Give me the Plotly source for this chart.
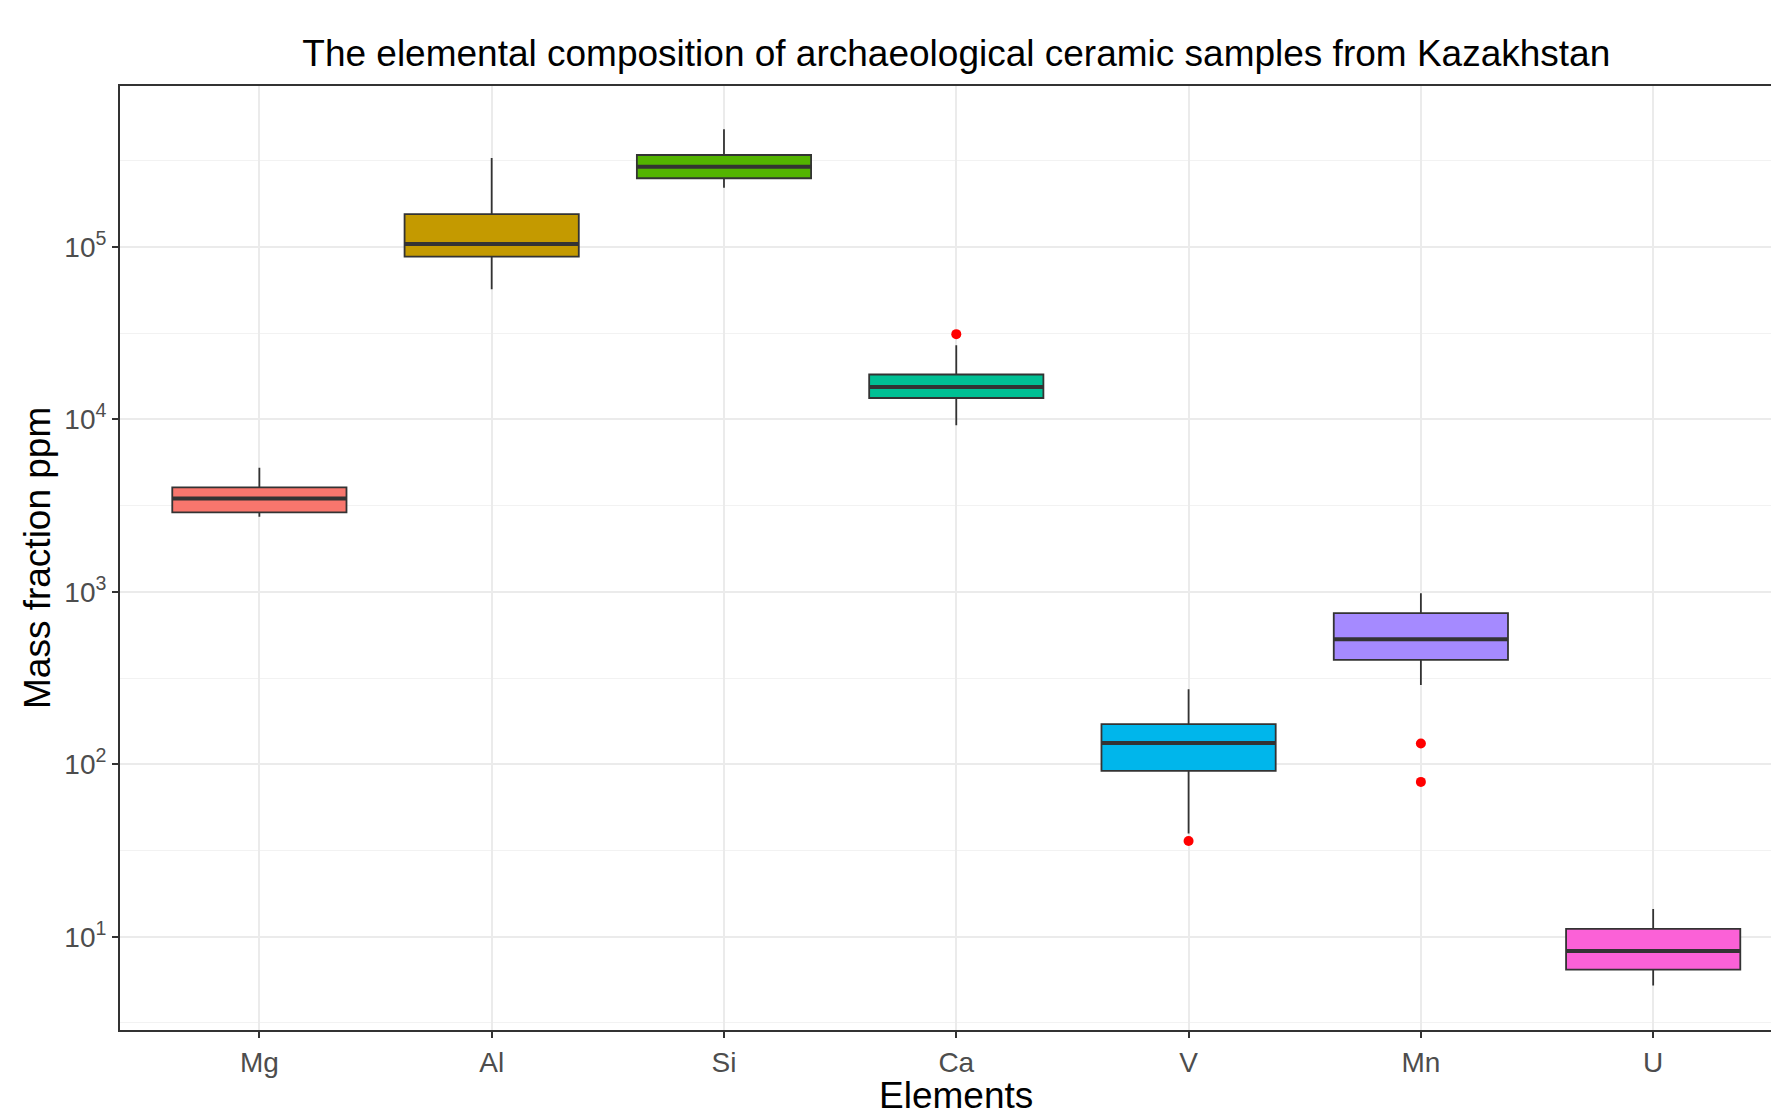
import plotly.graph_objects as go

elements = ["Mg", "Al", "Si", "Ca", "V", "Mn", "U"]
colors = ["#F8766D", "#C49A00", "#53B400", "#00C094", "#00B6EB", "#A58AFF", "#FB61D7"]
lower_whisker = [2720, 56900, 220000, 9250, 39.7, 288, 5.22]
q1 = [2885, 87900, 250000, 13300, 91.6, 403, 6.44]
median = [3475, 104000, 292000, 15400, 133, 530, 8.26]
q3 = [4030, 155000, 341000, 18200, 171, 753, 11.1]
upper_whisker = [5236, 328000, 481000, 26900, 272, 980, 14.5]
outlier_element = ["Ca", "V", "Mn", "Mn"]
outlier_value = [31200, 35.9, 132, 79]
ytick_vals = [10, 100, 1000, 10000, 100000]
ytick_text = ["10<sup>1</sup>", "10<sup>2</sup>", "10<sup>3</sup>", "10<sup>4</sup>", "10<sup>5</sup>"]
minor_vals = [10 ** (k + 0.5) for k in range(0, 6)]

BOX_W = 0.75
FONT = "Liberation Sans, Arial, sans-serif"

# page body has an 8px margin; the figure is sized/offset to compensate.
# The panel runs past the right edge of the picture, as in the reference.
W, H = 1790, 1101
ML, MT, MB = 112, 78, 79
PX_PER_CAT = 232.3
plot_h = H - MT - MB
x_end = -0.6 + (W - ML) / PX_PER_CAT
panel_center = (0.5 * 7.2 * PX_PER_CAT) / (W - ML)

fig = go.Figure()
for i, el in enumerate(elements):
    fig.add_trace(go.Box(
        x=[i], q1=[q1[i]], median=[median[i]], q3=[q3[i]],
        lowerfence=[lower_whisker[i]], upperfence=[upper_whisker[i]],
        width=BOX_W, whiskerwidth=0, boxpoints=False,
        fillcolor=colors[i], line=dict(color="#333333", width=1.8),
        name=el, showlegend=False, hoverinfo="skip"))
    fig.add_trace(go.Scatter(
        x=[i - BOX_W / 2, i + BOX_W / 2], y=[median[i], median[i]],
        mode="lines", line=dict(color="#333333", width=4),
        showlegend=False, hoverinfo="skip"))

fig.add_trace(go.Scatter(
    x=[elements.index(e) for e in outlier_element], y=outlier_value,
    mode="markers", marker=dict(color="#FF0000", size=10),
    showlegend=False, hoverinfo="skip"))

fig.update_layout(
    width=W, height=H,
    margin=dict(l=ML, r=0, t=MT, b=MB),
    paper_bgcolor="white", plot_bgcolor="white",
    font=dict(family=FONT),
    title=dict(text="The elemental composition of archaeological ceramic samples from Kazakhstan",
               x=panel_center, xref="paper", xanchor="center", y=1 - 45 / H, yanchor="middle",
               font=dict(size=37, color="black", family=FONT)),
    xaxis=dict(range=[-0.6, x_end], tickvals=list(range(len(elements))), ticktext=elements,
               showgrid=True, gridcolor="#EBEBEB", gridwidth=1.5, zeroline=False,
               showline=True, linecolor="#333333", linewidth=2, mirror=True,
               ticks="outside", ticklen=6, tickwidth=1.5, tickcolor="#333333",
               tickfont=dict(size=28, color="#4D4D4D", family=FONT)),
    yaxis=dict(type="log", range=[0.459, 5.933], tickvals=ytick_vals, ticktext=ytick_text,
               showgrid=True, gridcolor="#EBEBEB", gridwidth=1.5, zeroline=False,
               showline=True, linecolor="#333333", linewidth=2,
               ticks="outside", ticklen=6, tickwidth=1.5, tickcolor="#333333",
               tickfont=dict(size=28, color="#4D4D4D", family=FONT),
               minor=dict(tickvals=minor_vals, showgrid=True, gridcolor="#F2F2F2", gridwidth=1, ticks="")),
    annotations=[
        dict(text="Elements", xref="paper", yref="paper", x=panel_center, y=-(1095 - 1030) / plot_h,
             xanchor="center", yanchor="middle", showarrow=False,
             font=dict(size=37, color="black", family=FONT)),
        dict(text="Mass fraction ppm", xref="paper", yref="paper", x=-83 / (W - ML), y=0.5,
             xanchor="center", yanchor="middle", textangle=-90, showarrow=False,
             font=dict(size=37, color="black", family=FONT)),
    ],
)

fig.write_html("out.html")
